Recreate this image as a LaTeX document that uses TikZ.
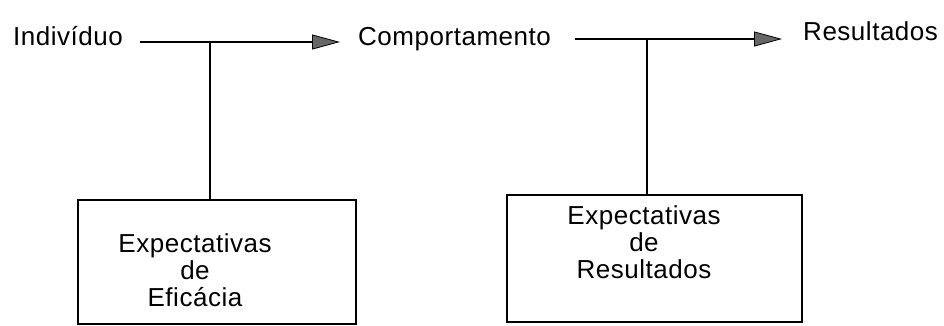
\documentclass[tikz,border=0pt]{standalone}
\usepackage{fontspec}
\setmainfont{Liberation Sans}[LetterSpace=2]
\usetikzlibrary{arrows.meta}
\begin{document}
\begin{tikzpicture}[x=1bp,y=-1bp,
  lbl/.style={font=\fontsize{26bp}{27bp}\selectfont, inner sep=0pt, text=black},
  boxtxt/.style={font=\fontsize{26bp}{27bp}\selectfont, inner sep=0pt, align=center},
  frame/.style={draw=black, line width=1.1bp, minimum width=#1, inner sep=0pt},
  conn/.style={line width=1.1bp, black},
  arr/.style={conn, -{Triangle[length=28bp,width=15bp,fill=black!60,line width=0.8bp]}}
]
\useasboundingbox (0,0) rectangle (944,325);
% labels
\node[lbl, anchor=base west] (ind) at (13,45) {Indivíduo};
\node[lbl, anchor=base west] (comp) at (358,45) {Comportamento};
\node[lbl, anchor=base west] (res) at (803,40) {Resultados};
% junctions
\coordinate (j1) at (210,42);
\coordinate (j2) at (647,39);
\coordinate (s1) at (140,42);
\coordinate (e1) at (340,42);
\coordinate (s2) at (575,39);
\coordinate (e2) at (782,39);
% boxes
\node[frame=278bp, minimum height=124bp] (box1) at (217,262) {};
\node[frame=295bp, minimum height=127bp] (box2) at (654.5,258.5) {};
\node[boxtxt] (t1) at (195,270) {Expectativas\\de\\Eficácia};
\node[boxtxt] (t2) at (644,242) {Expectativas\\de\\Resultados};
% connectors
\draw[arr] (s1) -- (e1);
\draw[arr] (s2) -- (e2);
\draw[conn] (j1) -- (j1 |- box1.north);
\draw[conn] (j2) -- (j2 |- box2.north);
\end{tikzpicture}
\end{document}
